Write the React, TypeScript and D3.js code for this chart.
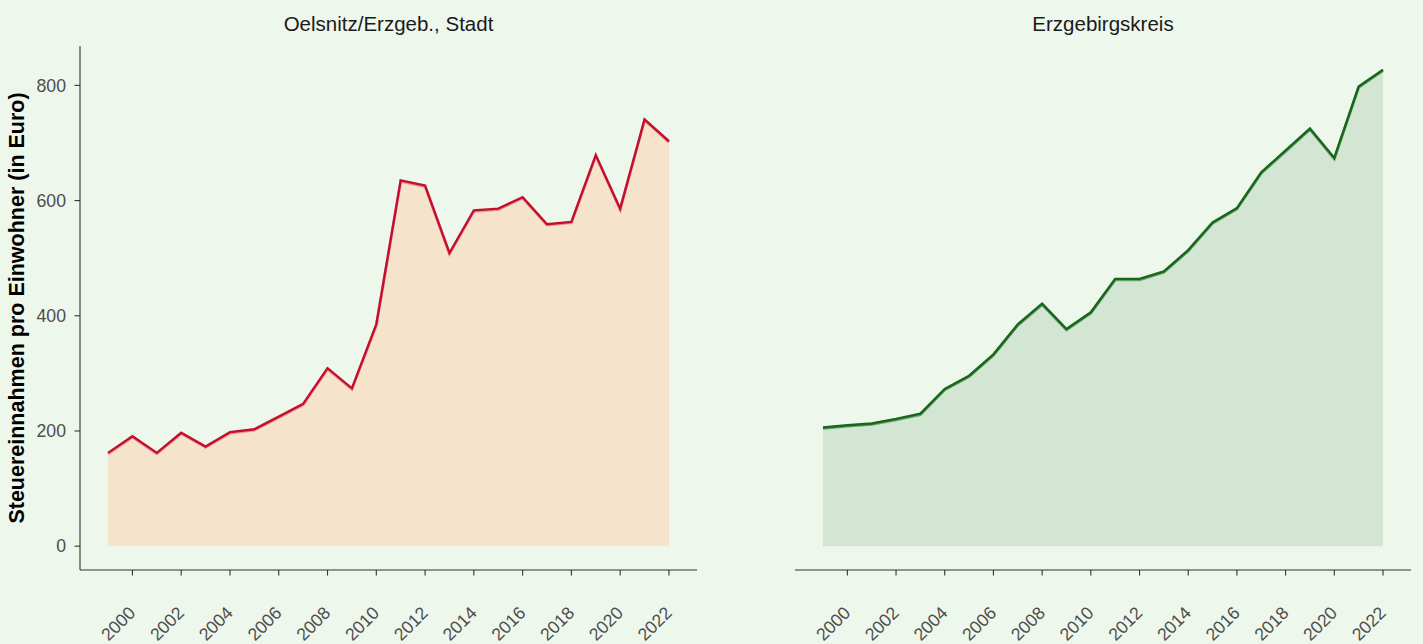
import React from "react";
import * as d3 from "d3";

const years = d3.range(1999, 2023);
const oelsnitz = [162, 191, 162, 197, 173, 198, 203, 225, 247, 309, 274, 385, 635, 626, 509, 583, 586, 606, 559, 563, 679, 586, 741, 703];
const kreis = [206, 210, 213, 221, 230, 273, 296, 333, 385, 421, 377, 406, 464, 464, 477, 514, 562, 587, 649, 687, 725, 674, 798, 827];
const yTicks = [0, 200, 400, 600, 800];
const xTicks = d3.range(2000, 2023, 2);
const panels = [
  { title: "Oelsnitz/Erzgeb., Stadt", values: oelsnitz, fill: "#F5E3CB", line: "#C20F2C", under: "#E3808F", left: 80, right: 697, yAxis: true },
  { title: "Erzgebirgskreis", values: kreis, fill: "#D3E6D3", line: "#17661A", under: "#4E8F50", left: 795, right: 1411, yAxis: false },
];

const W = 1423, H = 644;
const top = 46, bottom = 570;

export default function App() {
  const yMax = 827;
  const y = d3.scaleLinear().domain([-0.05 * yMax, yMax * 1.05]).range([bottom, top]);
  return (
    <svg width={W} height={H} style={{ position: "absolute", left: 0, top: 0 }} fontFamily="Liberation Sans, Arial, sans-serif">
      <rect width={W} height={H} fill="#EEF7EC" />
      {panels.map((p, i) => {
        const x = d3.scaleLinear().domain([1999 - 1.15, 2022 + 1.15]).range([p.left, p.right]);
        const pts = years.map((yr, k) => [yr, p.values[k]] as [number, number]);
        const area = d3.area<[number, number]>().x(d => x(d[0])).y0(y(0)).y1(d => y(d[1]))(pts) || "";
        const line = d3.line<[number, number]>().x(d => x(d[0])).y(d => y(d[1]))(pts) || "";
        return (
          <g key={i}>
            <path d={area} fill={p.fill} />
            <path d={line} fill="none" stroke={p.under} strokeWidth={2.8} transform="translate(0,0.9)" strokeLinejoin="miter" opacity={0.8} />
            <path d={line} fill="none" stroke={p.line} strokeWidth={2.4} strokeLinejoin="miter" />
            <text x={(p.left + p.right) / 2} y={31} textAnchor="middle" fontSize={20.5} fill="#1A1A1A">{p.title}</text>
            <line x1={p.left} x2={p.right} y1={bottom} y2={bottom} stroke="#333" strokeWidth={1.1} />
            {xTicks.map(t => (
              <g key={t}>
                <line x1={x(t)} x2={x(t)} y1={bottom} y2={bottom + 5.5} stroke="#333" strokeWidth={1.1} />
                <text transform={`translate(${x(t) + 4},${bottom + 44}) rotate(-45)`} textAnchor="end" fontSize={17.7} fill="#4D4D4D">{t}</text>
              </g>
            ))}
            {p.yAxis && (
              <g>
                <line x1={p.left} x2={p.left} y1={top} y2={bottom} stroke="#333" strokeWidth={1.1} />
                {yTicks.map(t => (
                  <g key={t}>
                    <line x1={p.left - 5.5} x2={p.left} y1={y(t)} y2={y(t)} stroke="#333" strokeWidth={1.1} />
                    <text x={p.left - 14} y={y(t)} dy="0.35em" textAnchor="end" fontSize={17.7} fill="#4D4D4D">{t}</text>
                  </g>
                ))}
              </g>
            )}
          </g>
        );
      })}
      <text transform={`translate(24,${(top + bottom) / 2}) rotate(-90)`} textAnchor="middle" fontSize={21.5} fontWeight="bold" fill="#000">Steuereinnahmen pro Einwohner (in Euro)</text>
    </svg>
  );
}
